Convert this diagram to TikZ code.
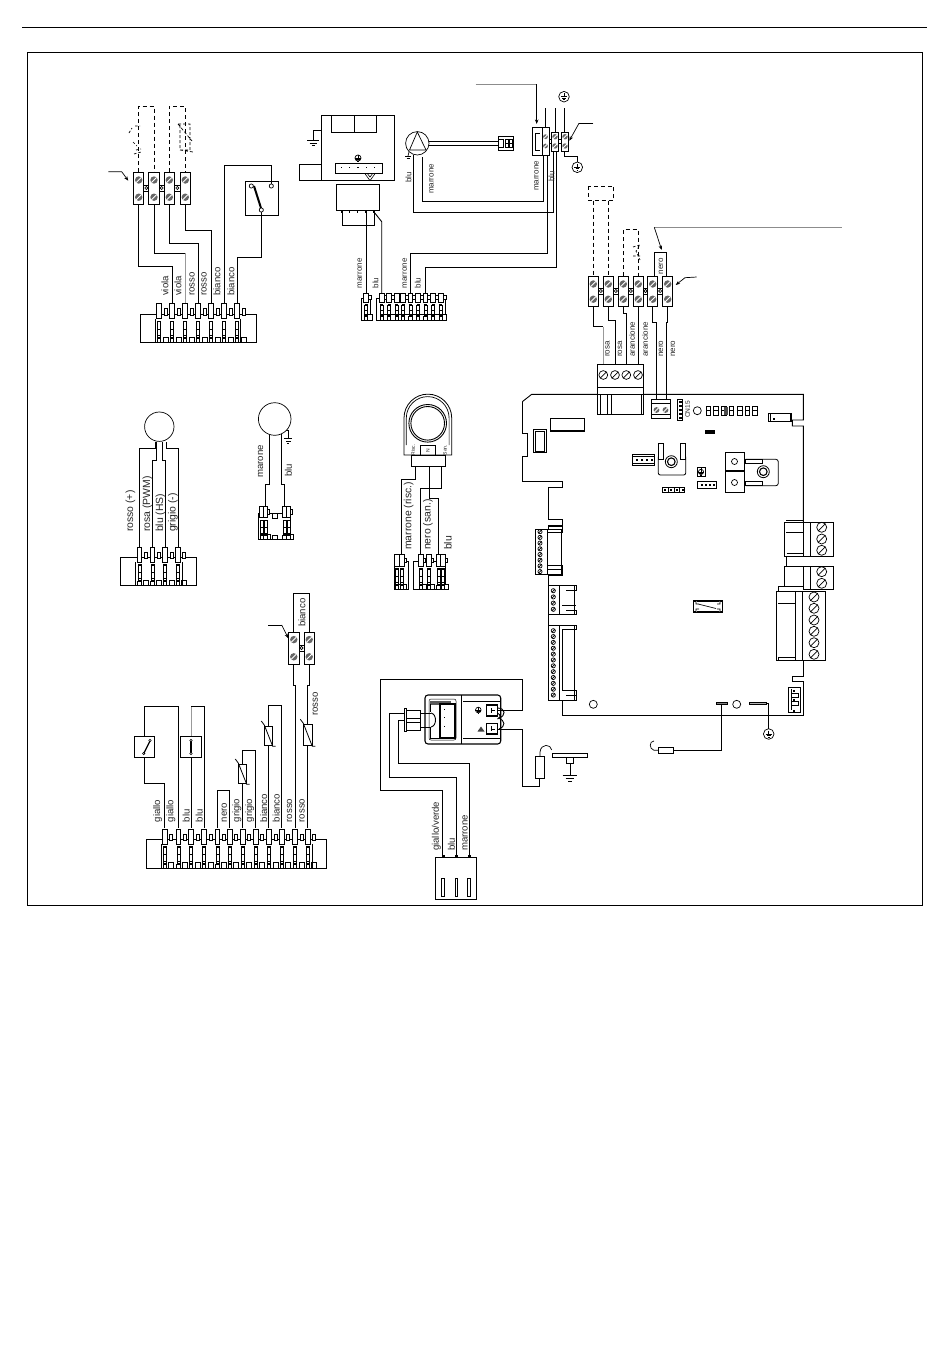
\documentclass[tikz,border=0pt]{standalone}
\usepackage{fontspec}
\setmainfont{Liberation Sans}
\usetikzlibrary{arrows.meta}
\newcount\lblc
\tikzset{
 wire/.style={line width=0.9pt,line join=miter},
 dash wire/.style={line width=0.8pt,dash pattern=on 4pt off 3pt},
 lead/.style={line width=0.7pt,-{Stealth[length=4.5pt,width=3.5pt]}},
 greylead/.style={line width=0.9pt,black!45},
 wl/.style={rotate=90,anchor=west,inner sep=0pt,text=black!85,font=\fontsize{9.6}{10}\selectfont},
 sl/.style={wl,font=\fontsize{8}{9}\selectfont},
 ll/.style={wl,font=\fontsize{10.4}{11}\selectfont},
 part/.style={line width=0.9pt,fill=white},
}
% label
\newcommand{\lab}[4][wl]{\global\advance\lblc by 1 \node[#1] (lab\the\lblc) at (#2,#3) {#4};}
% screw terminal
\newcommand{\scr}[3][3.7]{\fill[black!60] (#2,#3) circle (#1pt);\draw[white,line width=0.9pt] (#2-#1*0.7,#3+#1*0.7) -- (#2+#1*0.7,#3-#1*0.7);}
\newcommand{\term}[4][5.2]{% x, ytop, ybot
 \draw[part] (#2-#1,#3) rectangle (#2+#1,#4);
 \scr{#2}{#3+7.3}\scr{#2}{#4-7.5}}
\newcommand{\tlink}[2]{\draw[line width=0.6pt,fill=white] (#1-2.6,#2-3) rectangle (#1+2.6,#2+3);\draw[line width=0.6pt,fill=white] (#1,#2) circle (1.6pt);}
% slotted terminal screw
\newcommand{\sscr}[3][5]{\draw[line width=0.7pt] (#2,#3) circle (#1pt) (#2-#1*0.7,#3+#1*0.7) -- (#2+#1*0.7,#3-#1*0.7);}
% multi-way connector: [tall] xl xr yt yb pitch pins
\newcommand{\conn}[7][10.5]{%
 \draw[part] (#2,#4) rectangle (#3,#5);
 \foreach \px in {#7}{%
  \draw[line width=0.6pt,fill=white] (\px+#6/2-1.6,#4-#1/2) rectangle (\px+#6/2+1.6,#4+1);
  \draw[line width=0.6pt,fill=white] (\px+#6/2-2.4,#5-5.5) rectangle (\px+#6/2+2.4,#5);
  \draw[line width=0.6pt,fill=white] (\px-1.6,#5-4) rectangle (\px+1.6,#5);
  \draw[line width=0.6pt,fill=white] (\px-2.3,#4-#1) rectangle (\px+2.3,#4+4.5);
  \draw[line width=0.45pt] (\px-1.5,#4+7) rectangle (\px+1.5,#5-5);
  \draw[line width=0.45pt] (\px-1.5,#4*0.75+#5*0.25+0.5) -- (\px+1.5,#4*0.75+#5*0.25+0.5)
     (\px-1.5,#4*0.5+#5*0.5+1) -- (\px+1.5,#4*0.5+#5*0.5+1)
     (\px-1.5,#4*0.25+#5*0.75) -- (\px+1.5,#4*0.25+#5*0.75);
 }}
% ground symbol with ring
\newcommand{\gring}[3][5.3]{\draw[line width=0.7pt] (#2,#3) circle (#1pt);
 \draw[line width=0.7pt] (#2,#3-3.5) -- (#2,#3) (#2-3,#3) -- (#2+3,#3) (#2-1.8,#3+1.5) -- (#2+1.8,#3+1.5) (#2-0.8,#3+3) -- (#2+0.8,#3+3);}
% ground bars
\newcommand{\gbars}[3]{\draw[line width=0.8pt] (#1-#3,#2) -- (#1+#3,#2) (#1-#3*0.6,#2+2.7) -- (#1+#3*0.6,#2+2.7) (#1-#3*0.25,#2+5.2) -- (#1+#3*0.25,#2+5.2);}
% thermistor
\newcommand{\ntc}[4]{\draw[part] (#1,#2) rectangle (#3,#4);
 \draw[line width=0.8pt] (#1-3,#2-5) -- (#1,#2-1) -- (#3,#4+1) -- (#3+3,#4+1);}
\begin{document}
\begin{tikzpicture}[x=1pt,y=-1pt]
\useasboundingbox (0,0) rectangle (950,1360);
\fill[white] (0,0) rectangle (950,1360);
\draw[wire] (22,27) -- (927,27);
\draw[wire] (27,52) rectangle (922,905);

%%%%%% top-left group
\draw[dash wire] (138.7,172) -- (138.7,106) -- (154,106) -- (154,172);
\draw[dash wire] (169.3,172) -- (169.3,106) -- (185.3,106) -- (185.3,172);
\draw[line width=0.7pt,dash pattern=on 2.5pt off 2pt] (129,133) -- (132,128) (135,126) -- (140,126) (133,142) -- (137,146) (136,150) -- (141,149) (134,154) -- (141,152);
\draw[line width=0.7pt,dash pattern=on 3pt off 2pt] (178,124) -- (190,124) -- (190,150) -- (180,150) -- (180,124) (178,124) -- (192,141) (180,150) -- (193,152);
\draw[wire] (138.7,205) -- (138.7,266) -- (172,266) -- (172,304);
\draw[wire] (154,205) -- (154,253) -- (185,253);
\draw[wire,black!40] (185,253) -- (185,304);
\draw[wire] (169.3,205) -- (169.3,243.3) -- (198,243.3) -- (198,304);
\draw[wire] (185.3,205) -- (185.3,230) -- (211,230) -- (211,304);
\draw[wire] (224.3,304) -- (224.3,165.3) -- (271.3,165.3) -- (271.3,185);
\draw[wire] (237,304) -- (237,257.3) -- (261.3,257.3) -- (261.3,210);
\draw[wire] (245.3,181.3) rectangle (278.7,215.3);
\draw[line width=2pt] (254,186) -- (261.3,209);
\foreach \c in {(251.3,186),(271.3,186),(261.3,210)} \draw[line width=0.7pt,fill=white] \c circle (2.1pt);
\foreach \x in {146.3,161.7,177.3} \tlink{\x}{188};
\foreach \x in {138.7,154,169.3,185.3} \term{\x}{172.7}{204.7};
\draw[lead] (108.3,171.7) -- (121.7,171.7) -- (128.3,180.7);
\conn{140}{256.7}{314}{342.3}{13}{159,172,185,198,211,224,237}
\draw[line width=0.7pt] (155,319) -- (155,342.3) (240,319) -- (240,342.3);
\lab{165}{296}{viola}\lab{178}{296}{viola}\lab{192}{296}{rosso}\lab{204}{296}{rosso}\lab{217}{296}{bianco}\lab{231}{296}{bianco}

%%%%%% top-middle: burner unit and pump
\draw[wire] (321.3,115.7) rectangle (394.3,180.7);
\draw[wire] (331.7,115.7) rectangle (376.7,132.3) (354.3,115.7) -- (354.3,132.3);
\draw[wire] (321.3,130) -- (313.3,130) -- (313.3,140);
\gbars{313.3}{140.5}{6}
\draw[wire] (299.3,164.3) rectangle (321.3,180.7);
\draw[line width=0.8pt] (335,163.3) rectangle (382.7,173.7);
\foreach \x in {340.7,349,357.3,365.7,374} \fill (\x,166.5) rectangle +(1.4,1.4);
\gring[3]{358}{158}
\draw[line width=0.6pt] (365,173.7) -- (370,180.7) -- (375,173.7) (367.5,173.7) -- (370,177) -- (372.5,173.7);
\draw[wire] (336,184.3) rectangle (379.3,210.7);
\foreach \x in {341.7,349.3,357.3,366,374} \fill (\x-0.8,210.7) rectangle (\x+0.8,213);
\draw[wire] (342.3,212) -- (342.3,225.7) -- (374,225.7) -- (374,212);
\draw[wire] (366,212) -- (366,295);
\draw[wire] (381.7,295) -- (381.7,221.7) -- (374,212);
\draw[wire] (410.3,295) -- (410.3,253.3) -- (547.3,253.3) -- (547.3,155.7);
\draw[wire] (425.3,295) -- (425.3,267.3) -- (556.7,267.3) -- (556.7,151);
\draw[wire] (543.3,155.7) -- (543.3,201.7) -- (422.7,201.7) -- (422.7,156.7);
\draw[wire] (553.3,151) -- (553.3,212.3) -- (413.7,212.3) -- (413.7,155);
\draw[wire] (429.3,141) -- (498.3,141) (429.3,145.7) -- (498.3,145.7);
\draw[line width=0.7pt,fill=white] (417.3,143.3) circle (11.7pt);
\draw[line width=0.7pt] (417.3,132) -- (409.5,150) -- (426,150) -- cycle;
\draw[line width=0.7pt] (409,152) -- (408,156);
\draw[line width=0.8pt] (405,156) -- (411,156) (406.5,158) -- (409.5,158);
\draw[wire,fill=white] (498.3,136.3) rectangle (513,150.3);
\draw[line width=0.8pt] (505,139) rectangle (508.5,147) (509.5,139) rectangle (512,147) (498.3,139) rectangle (503.5,147);
\fill (505,143) rectangle (512,144.2);
% right terminals
\draw[wire] (545.3,108) -- (545.3,128) (555.3,108) -- (555.3,132) (564.3,108) -- (564.3,132);
\gring{564}{96.7}
\draw[part] (532.3,127.7) rectangle (542.7,155.7);
\draw[line width=1pt] (535,133) -- (535,150) (535,133) -- (540,133) (535,150) -- (540,150);
\draw[part] (542.7,127.7) rectangle (549,155.7);
\scr[2.4]{545.5}{136.7}\scr[2.4]{545.5}{146}
\draw[line width=0.7pt,fill=white] (549,139) rectangle (551.3,143) (558.7,139) rectangle (561.3,143);
\draw[part] (551.3,132.3) rectangle (558.7,151);\scr[2.7]{555}{136.7}\scr[2.7]{555}{146}
\draw[part] (561.3,132.3) rectangle (568.7,151);\scr[2.7]{565}{136.7}\scr[2.7]{565}{146}
\draw[wire] (564.3,151) -- (564.3,156.7) -- (577.3,156.7) -- (577.3,162);
\gring{577.3}{167.3}
\draw[line width=0.7pt] (593.3,123.3) -- (579,123.3);
\draw[lead] (579,123.3) -- (569.3,140.7);
\draw[greylead] (475.7,84) -- (536.7,84);
\draw[lead] (536.7,84) -- (536.7,124);
\conn[5]{361.7}{370}{298}{320}{7}{366}
\conn[5]{376}{445.7}{298}{320}{7.6}{381.7,389,396.5,403,410.3,418,425.3,433,440.5}
\lab[sl]{359.8}{288.5}{marrone}\lab[sl]{375.5}{288.5}{blu}\lab[sl]{404.8}{288.5}{marrone}\lab[sl]{417.8}{288.5}{blu}
\lab[sl]{408.5}{183}{blu}\lab[sl]{431.5}{194}{marrone}\lab[sl]{536.5}{191}{marrone}\lab[sl]{551.5}{182}{blu}

%%%%%% terminals above the board
\draw[dash wire] (588.3,186) rectangle (613.3,200.7);
\draw[dash wire] (593.3,200.7) -- (593.3,276) (608.7,200.7) -- (608.7,276);
\draw[dash wire] (623.3,276) -- (623.3,229.3) -- (638.3,229.3) -- (638.3,276);
\draw[line width=0.7pt,dash pattern=on 2.5pt off 2pt] (633,247) -- (640,245) -- (636,251) -- (640,260) (633,256) -- (640,256);
\draw[wire] (654.3,276) -- (654.3,252.3) -- (666.7,252.3) -- (666.7,276);
\draw[wire] (593.3,307) -- (593.3,326.7) -- (603.3,326.7);
\draw[wire,black!40] (603.3,326.7) -- (603.3,370);
\draw[wire] (608.7,307) -- (608.7,320) -- (615,320) -- (615,370);
\draw[wire] (623.3,307) -- (623.3,313.3) -- (626.3,313.3) -- (626.3,370);
\draw[wire] (638.3,307) -- (638.3,370);
\draw[wire] (652.7,307) -- (652.7,322.7) -- (656.7,322.7) -- (656.7,405);
\draw[wire] (667,307) -- (667,322.7) -- (666.7,322.7) -- (666.7,405);
\foreach \x in {600.8,615.8,630.8,645.5,660.2} \tlink{\x}{291};
\foreach \x in {593.3,608.3,623.3,638.3,652.7,667.7} \term{\x}{276.7}{306.7};
\draw[greylead] (841.7,227.3) -- (654.3,227.3);
\draw[lead] (654.3,227.3) -- (661.7,250);
\draw[line width=0.7pt] (696.7,277) -- (685,277.7);
\draw[lead] (685,277.7) -- (675.7,285);
\lab[sl]{661}{274.5}{nero}
\lab[sl]{607.5}{357}{rosa}\lab[sl]{620}{357}{rosa}\lab[sl]{632}{357}{arancione}\lab[sl]{645}{357}{arancione}\lab[sl]{661}{357}{nero}\lab[sl]{673}{357}{nero}

%%%%%% control board
\draw[wire] (522.3,401.7) -- (531.7,394.3) -- (803.3,394.3) -- (803.3,420) -- (792.3,420) -- (792.3,426) -- (803.3,426) -- (803.3,522);
\draw[wire] (803.3,660) -- (803.3,676) -- (792.3,676) -- (792.3,681.7) -- (803.3,681.7) -- (803.3,715) -- (562.3,715) -- (562.3,700);
\draw[wire] (548.3,625) -- (548.3,614) (548.3,585.7) -- (548.3,574.7);
\draw[wire] (548.3,529) -- (548.3,525) -- (562.3,525) -- (562.3,519.3) -- (548.3,519.3) -- (548.3,487.3) -- (562.3,487.3) -- (562.3,481.7) -- (522.3,481.7) -- (522.3,456) -- (527.3,456) -- (527.3,433.3) -- (522.3,433.3) -- (522.3,401.7);
% green connector at top
\draw[wire,fill=white] (597.3,364.3) rectangle (643.3,387.3);
\draw[wire,fill=white] (597.3,387.3) rectangle (643.3,414.3);
\draw[wire] (597.3,394.3) -- (643.3,394.3);
\draw[line width=0.9pt] (600.7,394.3) -- (600.7,414.3) (607.7,394.3) -- (607.7,414.3) (611,394.3) -- (611,414.3) (641,394.3) -- (641,414.3);
\foreach \x in {603.3,615,626.3,638} \sscr[4.4]{\x}{375};
% two-way
\draw[wire,fill=white] (651.3,399.3) rectangle (670.7,418.3);
\draw[line width=0.7pt] (651.3,403) -- (670.7,403) (651.3,414) -- (670.7,414);
\scr[2.9]{656.5}{410}\scr[2.9]{665.5}{410}
\draw[line width=0.8pt] (677.3,399.3) rectangle (682.7,420);
\foreach \y in {402,406,410,414,418} \fill (678.5,\y-1) rectangle (681.5,\y+0.6);
\node[rotate=90,inner sep=0pt,text=black!85,font=\fontsize{6.6}{7}\selectfont] (cn15) at (687.7,409.5) {CN15};
\draw[line width=0.7pt] (697.3,410.7) circle (4pt);
\foreach \x in {708.5,716,724,731.5,740,747.5,755} {\draw[line width=0.8pt] (\x-2.3,406) rectangle (\x+2.3,415);\draw[line width=0.6pt] (\x-2.3,410.5) -- (\x+2.3,410.5);}
\fill[black!70] (724,406.5) rectangle (728,415);
\draw[line width=0.9pt] (768.3,413) rectangle (791.7,421.7);
\draw[line width=0.9pt] (770,413) -- (770,421.7) (790,413) -- (790,421.7);
\fill (773,418) rectangle +(1.5,1.5);
\fill (705,430) rectangle (715,434);
\draw[line width=1.3pt] (550.7,418.3) rectangle (584.3,431);
\draw[line width=1pt] (533.3,429.3) rectangle (546.7,452.7);
\draw[line width=0.7pt] (535.5,431.5) rectangle (544.5,451);
\draw[line width=0.9pt] (632.3,454.3) rectangle (654.3,465.7);
\foreach \x in {637,642,647,652} \fill (\x-0.7,459) rectangle +(1.4,1.6);
\draw[line width=0.6pt] (632.3,456.5) -- (654.3,456.5) (632.3,463.5) -- (654.3,463.5);
% regulator 1
\draw[line width=0.8pt,rounded corners=2pt,fill=white] (658.3,456.7) -- (658.3,475) -- (685.7,475) -- (685.7,456.7);
\draw[line width=0.8pt] (658.3,443) rectangle (663.3,459) (680.7,443) rectangle (685.7,459);
\draw[line width=0.8pt] (671.3,461.7) circle (6pt);
\draw[line width=1.1pt] (671.3,461.7) circle (3.8pt);
\draw[line width=0.8pt] (697,467.5) rectangle (705,476.3);
\gring[2.6]{701}{471.9}
\draw[line width=0.8pt] (725,452.3) rectangle (744,470.7) (725,471.7) rectangle (744,492.7);
\draw[line width=0.7pt] (734.5,461.5) circle (3pt) (734.5,482.5) circle (3pt);
\draw[line width=0.8pt,rounded corners=2.5pt] (745.7,459.3) -- (778.3,459.3) -- (778.3,485.7) -- (745.7,485.7);
\draw[line width=0.8pt,fill=white] (745.7,459.3) rectangle (762.3,463.3) (745.7,481.3) rectangle (762.3,485.7);
\draw[line width=0.8pt] (763.3,471.7) circle (6pt);
\draw[line width=1.1pt] (763.3,471.7) circle (3.8pt);
\draw[line width=0.9pt] (662.3,487.3) rectangle (684.3,492.3);
\foreach \x in {664,670,676,682} \fill (\x,488.8) rectangle +(2,2);
\foreach \x in {668.5,674,679.5} \draw[line width=0.7pt] (\x,487.3) -- (\x,492.3);
\draw[line width=0.9pt] (697.3,481.7) rectangle (716.7,488.3);
\foreach \x in {702,706,710,714} \fill (\x-0.7,484) rectangle +(1.4,1.5);
% left connectors
\draw[wire] (535,529.3) rectangle (547.7,574.7) (547.7,529.3) rectangle (561,574.7);
\draw[wire] (548.3,526) -- (562.3,526) -- (562.3,532) -- (548.3,532) (548.3,565) -- (562.3,565) (548.3,569) -- (562.3,569) (562.3,565) -- (562.3,575) -- (548.3,575);
\foreach \i in {0,...,7} \sscr[2.1]{540}{531.7+\i*5.7};
\draw[wire] (548.3,585.7) rectangle (559.3,614.3) (559.3,585.7) rectangle (574,614.3);
\draw[wire] (566,585.7) -- (576,585.7) -- (576,590) -- (566,590) (566,610) -- (576,610) -- (576,614.3) -- (566,614.3);
\draw[line width=1.4pt] (562,605.5) -- (576,605.5);
\foreach \i in {0,...,3} \sscr[2.1]{553.3}{590.7+\i*6.2};
\draw[wire] (548.3,625.3) rectangle (559.3,700) (559.3,625.3) rectangle (574,700);
\draw[wire] (566,625.3) -- (576,625.3) -- (576,629.5) -- (562,629.5) -- (562,690) -- (576,690) -- (576,700) -- (566,700) (566,695.5) -- (576,695.5);
\foreach \i in {0,...,11} \sscr[2.1]{553.3}{630.7+\i*5.85};
% right connectors
\draw[wire] (803.3,522.3) rectangle (810.7,556);
\draw[wire] (810.7,522.3) rectangle (833.3,556);
\draw[wire] (803.3,522.3) -- (784.7,522.3) -- (784.7,556) -- (803.3,556);
\draw[wire] (786,520.5) -- (803.3,520.5) (786,532.7) -- (803.3,532.7) (786.5,553) -- (803.3,553);
\foreach \y in {527.3,539,550.3} \sscr{821.7}{\y};
\draw[wire] (786.5,556) -- (786.5,566.3);
\draw[wire] (803.3,566.3) rectangle (810.7,589.3);
\draw[wire] (810.7,566.3) rectangle (833.3,589.3);
\draw[wire] (803.3,566.3) -- (784.7,566.3) -- (784.7,586.5) -- (803.3,586.5);
\foreach \y in {571.7,583.3} \sscr{821.7}{\y};
\draw[wire] (778.5,591.3) -- (778.5,586.5) -- (784.7,586.5);
\draw[wire] (776.7,591.3) rectangle (795.7,660.7);
\draw[wire] (795.7,591.3) rectangle (802.7,660.7);
\draw[wire] (802.7,591.3) rectangle (825,660.7);
\draw[wire] (778,603.5) -- (795.7,603.5) (778,657.5) -- (795.7,657.5) (778,657.5) -- (778,660.7);
\foreach \y in {597,608.3,620,631.3,642.7,654.3} \sscr{814}{\y};
% lower right & misc
\draw[line width=0.8pt] (788.7,687.3) rectangle (800.7,712.3);
\draw[line width=0.8pt] (791,697) -- (798,697) -- (798,693) -- (791,693) (791,705) -- (798,705) -- (798,701) -- (791,701) (791,689) -- (791,710);
\foreach \y in {690,699,710} \fill (793,\y) rectangle +(1.5,1.5);
% fuse
\draw[line width=1.4pt] (693.3,601) rectangle (722.7,612);
\draw[line width=0.7pt,fill=white] (696,601) -- (696,604) -- (699,604) (720,601) -- (720,604) -- (717,604) (696,612) -- (696,609) -- (699,609) (720,612) -- (720,609) -- (717,609) (698,604) -- (716,608.5);
\draw[line width=0.7pt] (593.3,704.3) circle (4pt) (736.7,704.3) circle (4pt);
\draw[line width=0.6pt,fill=black!50] (716,702.3) rectangle (727.7,704.6);
\draw[line width=0.6pt,fill=black!30] (749.3,702.3) rectangle (766.7,704.6);
\draw[wire] (721.3,704) -- (721.3,750.3) -- (673.3,750.3);
\draw[line width=0.8pt] (658.3,747.2) rectangle (673.3,753.3);
\draw[line width=0.7pt] (658.3,750.3) -- (654,750.3) .. controls (649,749) and (649,741) .. (654,741);
\draw[wire] (766.7,703.3) -- (768.3,703.3) -- (768.3,729);
\gring{768.7}{734}

%%%%%% fan
\draw[wire] (139.3,553) -- (139.3,448.3) -- (155,448.3) -- (155,442);
\draw[wire] (152.3,553) -- (152.3,460) -- (156.7,460) -- (156.7,442);
\draw[wire] (165,553) -- (165,460) -- (162.7,460) -- (162.7,442);
\draw[wire] (178.3,553) -- (178.3,448.3) -- (166,448.3) -- (166,442);
\draw[line width=0.7pt,fill=white] (159.3,426.7) circle (14.7pt);
\conn{120}{196.7}{557.3}{585.3}{12.8}{139.3,152.3,165,177.7}
\draw[line width=0.7pt] (135,562) -- (135,585.3) (182,562) -- (182,585.3);
\lab[ll]{130.5}{532}{rosso (+)}\lab[ll]{147.5}{532}{rosa (PWM)}\lab[ll]{160.5}{532}{blu (HS)}\lab[ll]{173}{532}{grigio (-)}

%%%%%% second sensor
\draw[wire] (269.3,434) -- (269.3,484.3) -- (265.3,484.3) -- (265.3,510);
\draw[wire] (281,433) -- (281,484.3) -- (284.3,484.3) -- (284.3,510);
\draw[line width=0.7pt] (284,430) -- (288.3,430) -- (288.3,438);
\gbars{288.3}{438.5}{4}
\draw[line width=0.7pt,fill=white] (274.7,419) circle (16.3pt);
\conn[7]{258.7}{290.7}{513}{539.3}{5}{261.5,265.3,284.3,288.3}
\draw[line width=0.6pt,fill=white] (272,513) rectangle (277,518) (272,535) rectangle (277,539.3);
\lab{260.5}{478}{marone}\lab{288.5}{477}{blu}

%%%%%% valve
\draw[line width=0.8pt] (404,455) -- (404,418) arc[start angle=180,end angle=360,radius=23.85] -- (451.7,455) -- cycle;
\draw[line width=0.7pt] (406.3,445) -- (406.3,418) arc[start angle=180,end angle=360,radius=21.4] -- (449.1,445);
\draw[line width=0.9pt,fill=white] (427.7,423.3) circle (18.8pt);
\draw[line width=0.9pt] (427.7,423.3) circle (16.8pt);
\draw[line width=0.7pt] (420.7,445) -- (420.7,455) (435,445) -- (435,455) (420.7,445) -- (435,445);
\node[rotate=90,inner sep=0pt,text=black!85,font=\fontsize{5}{6}\selectfont] (vr) at (413,450) {Risc.};
\node[rotate=90,inner sep=0pt,text=black!85,font=\fontsize{5}{6}\selectfont] (vn) at (428,451) {N};
\node[rotate=90,inner sep=0pt,text=black!85,font=\fontsize{5}{6}\selectfont] (vs) at (445,450) {San.};
\draw[line width=0.8pt] (411.7,455.7) rectangle (445,466);
\draw[wire] (415,466) -- (415,479.3) -- (401.7,479.3) -- (401.7,556);
\draw[wire] (429,466) -- (429,498.3) -- (438.3,498.3) -- (438.3,556);
\draw[wire] (441.7,466) -- (441.7,488.3) -- (420.7,488.3) -- (420.7,556);
\conn[7]{394.7}{408.5}{561.7}{589.3}{5}{397,401.7}
\conn[7]{413.5}{445.3}{561.7}{589.3}{6}{420.7,429,438.3,443}
\lab[ll]{408.8}{550}{marrone (risc.)}\lab[ll]{428}{550}{nero (san.)}\lab[ll]{448}{550}{blu}

%%%%%% bottom-left group
\draw[wire] (293.7,632) -- (293.7,593.3) -- (309,593.3) -- (309,632);
\draw[wire] (293.7,664) -- (293.7,685) -- (295,685) -- (295,828);
\draw[wire] (309,664) -- (309,685) -- (307.7,685) -- (307.7,828);
\tlink{301.5}{648}
\term{293.8}{632.3}{664.3}\term{309.2}{632.3}{664.3}
\draw[line width=0.7pt] (268.3,625) -- (281.7,625);
\draw[lead] (281.7,625) -- (288.3,638.3);
\ntc{303.3}{724.3}{312.3}{745.3}
\draw[wire] (268.3,828) -- (268.3,705.7) -- (281.7,705.7) -- (281.7,828);
\ntc{264.3}{726}{272.7}{745.3}
\draw[wire] (242.7,828) -- (242.7,750.3) -- (255.7,750.3) -- (255.7,828);
\ntc{238.3}{764}{246.7}{783.3}
\draw[wire] (217.3,828) -- (217.3,790.3) -- (229.7,790.3) -- (229.7,828);
\draw[wire] (144.3,736) -- (144.3,706.7) -- (178.3,706.7) -- (178.3,828);
\draw[wire] (144.3,757.3) -- (144.3,783.3) -- (164.7,783.3) -- (164.7,828);
\draw[wire] (134.3,736) rectangle (154.3,757.3);
\draw[line width=1.3pt] (144,753) -- (150,741);
\draw[line width=0.6pt,fill=white] (150,740.5) circle (1.2pt) (143.7,753.5) circle (1.2pt);
\draw[wire,black!40] (191,706.7) -- (191,736);
\draw[wire] (191,706.7) -- (204,706.7) -- (204,828);
\draw[wire] (191,757.3) -- (191,828);
\draw[wire] (180.7,736) rectangle (201.7,757.3);
\draw[line width=1.3pt] (191,741) -- (191,753);
\draw[line width=0.6pt,fill=white] (191,740.5) circle (1.2pt) (191,753.5) circle (1.2pt);
\conn{146.3}{326.7}{839.3}{868}{12.9}{164.7,178.3,191,204,217.3,229.7,242.7,255.7,269,281.7,295,307.7}
\draw[line width=0.7pt] (161,844) -- (161,868) (312,844) -- (312,868);
\lab{157.6}{822.5}{giallo}\lab{171}{822.5}{giallo}\lab{186.3}{822.5}{blu}\lab{199.3}{822.5}{blu}\lab{224.3}{822.5}{nero}\lab{237}{822.5}{grigio}\lab{249.6}{822.5}{grigio}\lab{263.6}{822.5}{bianco}\lab{276.3}{822.5}{bianco}\lab{289.6}{822.5}{rosso}\lab{302}{822.5}{rosso}
\lab{302}{627}{bianco}\lab{315.3}{716}{rosso}

%%%%%% transformer group
\draw[wire] (442.3,855) -- (442.3,790) -- (380,790) -- (380,679.3) -- (522.3,679.3) -- (522.3,710) -- (495,710);
\draw[wire] (495,729.3) -- (522.3,729.3) -- (522.3,786) -- (539.3,786) -- (539.3,778.3);
\draw[wire] (404.3,713) -- (389.3,713) -- (389.3,777.3) -- (456,777.3) -- (456,855);
\draw[wire] (404.3,720) -- (398.3,720) -- (398.3,763.3) -- (469.3,763.3) -- (469.3,855);
\draw[line width=1.1pt,rounded corners=3pt] (425,695) rectangle (500.7,744);
\draw[line width=0.6pt] (461.7,695) -- (461.7,744);
\draw[line width=0.5pt,rounded corners=2pt] (429,699) rectangle (456,740);
\fill[black!65] (430,701) rectangle (451,705);
\draw[line width=1.3pt] (440,704) rectangle (455,738);
\draw[line width=1pt] (430,704) -- (430,712) (430,728) -- (430,738) -- (440,738);
\draw[line width=0.6pt] (420,713) -- (431,713) (420,727) -- (431,727);
\draw[line width=0.9pt] (431,713) .. controls (437,714) and (437,726) .. (431,727);
\foreach \y in {709,717,726} \fill (443.7,\y) rectangle +(1,1.2);
\draw[line width=0.5pt] (463,701) -- (500,701) (463,738) -- (500,738);
\draw[wire,fill=white] (406.7,710) rectangle (420,730);
\draw[line width=0.7pt] (406.7,718) -- (420,718) (406.7,722) -- (420,722);
\draw[line width=1pt,fill=white] (404.3,708.3) rectangle (406.7,731.7);
\draw[line width=1.3pt,fill=white] (486.7,705) rectangle (497.3,716);
\draw[line width=1.3pt,fill=white] (486.7,723.3) rectangle (497.3,734);
\draw[line width=0.9pt] (491,708) -- (491,712.5) (491,710) -- (495,710) (491,726) -- (491,731) (491,729) -- (495,729);
\draw[line width=0.9pt] (497.3,708) .. controls (506,708) and (506,716) .. (499,718) .. controls (505,721) and (506,726) .. (499,729);
\draw[line width=0.9pt] (497.3,713) .. controls (501,715) and (501,717) .. (497.5,719);
\gring[2.8]{478.3}{710}
\fill[black!75] (481,726.5) -- (477.5,731.5) -- (484.5,731.5) -- cycle;
\draw[line width=0.8pt] (535.7,756.7) rectangle (544.3,778.3);
\draw[line width=0.7pt] (540,756.7) -- (540,752) .. controls (541,743) and (551,744) .. (551.7,750);
\draw[line width=0.9pt] (552.7,753.3) rectangle (587.3,757.3);
\draw[line width=0.9pt] (566.7,757.3) -- (566.7,763.3) -- (573.3,763.3) -- (573.3,757.3);
\draw[line width=0.9pt] (570,763.3) -- (570,775.7);
\gbars{570}{775.7}{7.3}
\draw[wire] (435.7,857.3) rectangle (476.7,899.3);
\foreach \x in {443,456.3,469} {\draw[line width=0.9pt] (\x-1.3,878.3) rectangle (\x+1.3,896.7);\fill (\x-1.5,855) rectangle (\x+1.5,857.3);}
\lab{436.5}{851}{giallo/verde}\lab{451.5}{851}{blu}\lab{465}{851}{marrone}
\end{tikzpicture}
\end{document}
